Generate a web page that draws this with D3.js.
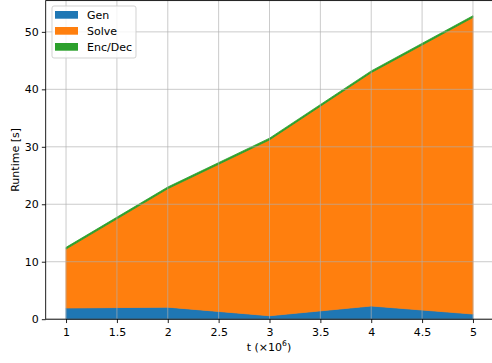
<!DOCTYPE html>
<html>
<head>
<meta charset="utf-8">
<script src="https://cdn.jsdelivr.net/npm/d3@7"></script>
<style>
  body { margin: 0; background: #fff; }
  svg { display: block; font-family: "DejaVu Sans", sans-serif; }
</style>
</head>
<body>
<svg width="492" height="363"></svg>
<script>
  // data
  var t = [1, 2, 3, 4, 5];
  var gen = [1.95, 2.1, 0.6, 2.3, 0.9];
  var solve = [10.25, 20.6, 30.6, 40.6, 51.6];
  var encdec = [0.3, 0.3, 0.3, 0.3, 0.3];
  var seriesNames = ['Gen', 'Solve', 'Enc/Dec'];
  var colors = ['#1f77b4', '#ff7f0e', '#2ca02c'];
  var xTicks = [1, 1.5, 2, 2.5, 3, 3.5, 4, 4.5, 5];
  var yTicks = [0, 10, 20, 30, 40, 50];

  (function () {
    var svg = d3.select('svg');
    var fs = 11;

    // plot box (right edge runs off the figure, as in the original)
    var pLeft = 45.7, pRight = 493.3, pTop = 0.6, pBottom = 319.2;

    var rows = t.map(function (v, i) {
      return { t: v, 'Gen': gen[i], 'Solve': solve[i], 'Enc/Dec': encdec[i] };
    });
    var stacked = d3.stack().keys(seriesNames)(rows);
    var maxY = d3.max(stacked[stacked.length - 1], function (d) { return d[1]; });

    var x = d3.scaleLinear().domain([0.8, 5.2]).range([pLeft, pRight]);
    var y = d3.scaleLinear().domain([0, maxY * 1.05]).range([pBottom, pTop]);

    var area = d3.area()
      .x(function (d) { return x(d.data.t); })
      .y0(function (d) { return y(d[0]); })
      .y1(function (d) { return y(d[1]); });

    svg.append('g').selectAll('path')
      .data(stacked)
      .enter().append('path')
      .attr('d', area)
      .attr('fill', function (d, i) { return colors[i]; })
      .attr('stroke', function (d, i) { return colors[i]; })
      .attr('stroke-width', 0.8);

    // grid (drawn over the areas, like matplotlib)
    var grid = svg.append('g')
      .attr('stroke', '#b0b0b0')
      .attr('stroke-width', 0.88)
      .attr('stroke-opacity', 0.75);
    grid.selectAll('.gx').data(xTicks).enter().append('line')
      .attr('x1', function (d) { return x(d); }).attr('x2', function (d) { return x(d); })
      .attr('y1', pTop).attr('y2', pBottom);
    grid.selectAll('.gy').data(yTicks).enter().append('line')
      .attr('x1', pLeft).attr('x2', pRight)
      .attr('y1', function (d) { return y(d); }).attr('y2', function (d) { return y(d); });

    // axes
    var xAxis = svg.append('g')
      .attr('transform', 'translate(0,' + pBottom + ')')
      .call(d3.axisBottom(x).tickValues(xTicks).tickSize(3.85).tickPadding(5)
        .tickFormat(function (d) { return String(d); }));
    var yAxis = svg.append('g')
      .attr('transform', 'translate(' + pLeft + ',0)')
      .call(d3.axisLeft(y).tickValues(yTicks).tickSize(3.85).tickPadding(3));

    [xAxis, yAxis].forEach(function (a) {
      a.select('.domain').remove();
      a.selectAll('line').attr('stroke', '#000').attr('stroke-width', 0.88);
      a.selectAll('text').attr('font-size', fs).attr('fill', '#000')
        .attr('font-family', '"DejaVu Sans", sans-serif');
    });

    // spines
    svg.append('rect')
      .attr('x', pLeft).attr('y', pTop)
      .attr('width', pRight - pLeft).attr('height', pBottom - pTop)
      .attr('fill', 'none').attr('stroke', '#000').attr('stroke-width', 0.88);

    // axis labels
    var xl = svg.append('text')
      .attr('x', 269).attr('y', 350.5)
      .attr('text-anchor', 'middle').attr('font-size', fs);
    xl.append('tspan').text('t (×10');
    xl.append('tspan').attr('dy', -4.5).attr('font-size', 7.7).text('6');
    xl.append('tspan').attr('dy', 4.5).text(')');

    svg.append('text')
      .attr('transform', 'translate(18.5,' + ((pTop + pBottom) / 2) + ') rotate(-90)')
      .attr('text-anchor', 'middle').attr('font-size', fs)
      .text('Runtime [s]');

    // legend
    var lg = svg.append('g').attr('transform', 'translate(52,6)');
    lg.append('rect')
      .attr('width', 84).attr('height', 52).attr('rx', 2)
      .attr('fill', '#fff').attr('fill-opacity', 0.8)
      .attr('stroke', '#cccccc').attr('stroke-width', 0.88);
    var item = lg.selectAll('.item').data(seriesNames).enter().append('g')
      .attr('transform', function (d, i) { return 'translate(3,' + (5 + i * 16) + ')'; });
    item.append('rect')
      .attr('width', 23).attr('height', 7.7)
      .attr('fill', function (d, i) { return colors[i]; });
    item.append('text')
      .attr('x', 32).attr('y', 8)
      .attr('font-size', fs)
      .text(function (d) { return d; });
  })();
</script>
</body>
</html>
